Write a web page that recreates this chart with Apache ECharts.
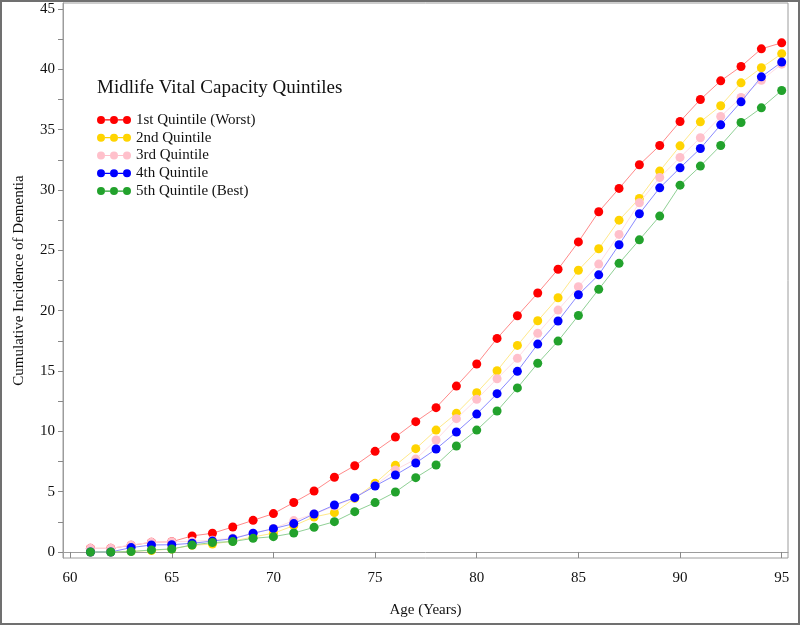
<!DOCTYPE html>
<html>
<head>
<meta charset="utf-8">
<script src="https://cdn.jsdelivr.net/npm/echarts@6/dist/echarts.min.js"></script>
<style>
  html, body { margin: 0; padding: 0; background: #fff; }
  #chart { width: 800px; height: 625px; }
</style>
</head>
<body>
<div id="chart"></div>
<script>
const ages = [61, 62, 63, 64, 65, 66, 67, 68, 69, 70, 71, 72, 73, 74, 75, 76, 77, 78,
  79, 80, 81, 82, 83, 84, 85, 86, 87, 88, 89, 90, 91, 92, 93, 94, 95]

const q1Worst = [0.3, 0.3, 0.55, 0.8, 0.85, 1.33, 1.55, 2.07, 2.62, 3.18, 4.1, 5.05, 6.19, 7.15,
  8.34, 9.53, 10.8, 11.96, 13.75, 15.58, 17.7, 19.58, 21.46, 23.43, 25.7, 28.2, 30.13, 32.09,
  33.69, 35.68, 37.5, 39.05, 40.24, 41.7, 42.2]
const q2 = [0, 0, 0.05, 0.12, 0.25, 0.55, 0.66, 0.9, 1.25, 1.55, 2.18, 2.9, 3.26, 4.45, 5.69,
  7.18, 8.56, 10.1, 11.49, 13.2, 15.02, 17.12, 19.16, 21.07, 23.35, 25.13, 27.5, 29.3, 31.57,
  33.66, 35.65, 36.98, 38.88, 40.13, 41.3]
const q3 = [0.3, 0.3, 0.58, 0.8, 0.85, 0.88, 0.98, 1.15, 1.55, 1.95, 2.6, 3.15, 3.8, 4.5, 5.5,
  6.8, 7.7, 9.28, 11.05, 12.65, 14.36, 16.05, 18.12, 20.05, 21.98, 23.86, 26.32, 28.94, 31.04,
  32.7, 34.33, 36.1, 37.67, 39.1, 40.43]
const q4 = [0, 0, 0.36, 0.58, 0.6, 0.72, 0.9, 1.1, 1.55, 1.93, 2.35, 3.15, 3.89, 4.5, 5.47,
  6.38, 7.37, 8.53, 9.94, 11.43, 13.12, 14.97, 17.23, 19.14, 21.32, 22.97, 25.46, 28.03, 30.18,
  31.84, 33.44, 35.4, 37.31, 39.38, 40.6]
const q5Best = [0, 0, 0.03, 0.17, 0.25, 0.58, 0.78, 0.86, 1.13, 1.27, 1.57, 2.04, 2.51, 3.34,
  4.09, 4.97, 6.16, 7.21, 8.78, 10.1, 11.68, 13.6, 15.64, 17.48, 19.6, 21.77, 23.92, 25.87,
  27.84, 30.4, 31.98, 33.69, 35.6, 36.81, 38.25]

const seriesNames = ['1st Quintile (Worst)', '2nd Quintile', '3rd Quintile', '4th Quintile', '5th Quintile (Best)']
const seriesValues = [q1Worst, q2, q3, q4, q5Best]
const dotColors = ['#ff0000', '#ffd400', '#ffc0cb', '#0000ff', '#22a22c']
const lineColors = ['#ff8a8a', '#ffe98a', '#ffdde4', '#8a8aff', '#8fd095']

const xTicks = [60, 65, 70, 75, 80, 85, 90, 95]
const yLabels = [0, 5, 10, 15, 20, 25, 30, 35, 40, 45]
const yTicks = [0, 2.5, 5, 7.5, 10, 12.5, 15, 17.5, 20, 22.5, 25, 27.5, 30, 32.5, 35, 37.5, 40, 42.5, 45]

const font = '"Liberation Serif", "Times New Roman", serif'
const frameColor = '#9c9c9c'

// three dots joined by a line, like the SAS legend swatch
const legendIcon = 'path://M0,4A4,4,0,1,1,8,4A4,4,0,1,1,0,4Z' +
  'M13,4A4,4,0,1,1,21,4A4,4,0,1,1,13,4Z' +
  'M26,4A4,4,0,1,1,34,4A4,4,0,1,1,26,4Z' +
  'M8,3.4H13V4.6H8Z M21,3.4H26V4.6H21Z'

const chart = echarts.init(document.getElementById('chart'))

chart.setOption({
  animation: false,
  backgroundColor: '#fff',
  title: {
    text: 'Midlife Vital Capacity Quintiles',
    left: 97,
    top: 79,
    padding: 0,
    textStyle: { fontFamily: font, fontSize: 19, fontWeight: 'normal', color: '#111' }
  },
  legend: {
    orient: 'vertical',
    left: 97,
    top: 111,
    padding: 0,
    itemGap: 0,
    itemWidth: 34,
    itemHeight: 8,
    icon: legendIcon,
    itemStyle: { borderWidth: 0 },
    textStyle: { fontFamily: font, fontSize: 15, color: '#111', lineHeight: 17.8 },
    data: seriesNames
  },
  graphic: [{
    type: 'rect',
    silent: true,
    shape: { x: 1, y: 1, width: 798, height: 623 },
    style: { fill: 'none', stroke: '#707070', lineWidth: 2 }
  }],
  grid: {
    left: 63,
    right: 12,
    top: 3,
    bottom: 67,
    show: true,
    borderColor: frameColor,
    borderWidth: 1
  },
  xAxis: {
    type: 'value',
    min: 59.65,
    max: 95.31,
    name: 'Age (Years)',
    nameLocation: 'middle',
    nameGap: 45,
    nameTextStyle: { fontFamily: font, fontSize: 15, color: '#111' },
    axisLine: { show: true, lineStyle: { color: frameColor } },
    axisTick: { show: true, length: 6, customValues: xTicks, lineStyle: { color: '#888' } },
    axisLabel: { customValues: xTicks, margin: 13, fontFamily: font, fontSize: 15, color: '#111' },
    splitLine: { show: false }
  },
  yAxis: {
    type: 'value',
    min: -0.5,
    max: 45.5,
    name: 'Cumulative Incidence of Dementia',
    nameLocation: 'middle',
    nameGap: 36,
    nameTextStyle: { fontFamily: font, fontSize: 15, color: '#111' },
    axisLine: { show: true, lineStyle: { color: frameColor } },
    axisTick: { show: true, length: 5, customValues: yTicks, lineStyle: { color: '#888' } },
    axisLabel: { customValues: yLabels, margin: 8, fontFamily: font, fontSize: 15, color: '#111' },
    splitLine: { show: false }
  },
  series: seriesNames.map((name, i) => ({
    name: name,
    type: 'line',
    data: ages.map((a, j) => [a, seriesValues[i][j]]),
    symbol: 'circle',
    symbolSize: 9,
    showSymbol: true,
    showAllSymbol: true,
    itemStyle: { color: dotColors[i], borderWidth: 0 },
    lineStyle: { color: lineColors[i], width: 1 },
    emphasis: { disabled: true },
    z: 2 + i
  }))
})
</script>
</body>
</html>
